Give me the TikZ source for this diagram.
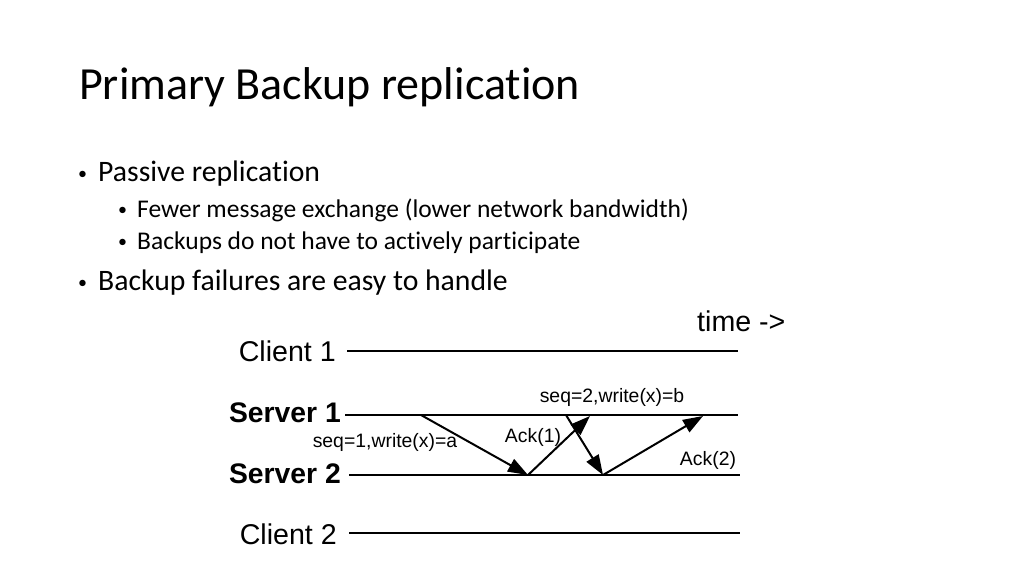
\documentclass[tikz,border=0pt]{standalone}
\usepackage{fontspec}
\setmainfont{Carlito}[Ligatures=NoCommon]
\newfontfamily\diagfont{Liberation Sans}
\usetikzlibrary{arrows.meta}
\tikzstyle{title}=[anchor=west, inner sep=0pt, font=\fontsize{46}{50}\selectfont]
\tikzstyle{item}=[anchor=west, inner sep=0pt, font=\fontsize{29.7}{34}\selectfont]
\tikzstyle{subitem}=[anchor=west, inner sep=0pt, font=\fontsize{25.5}{30}\selectfont]
\tikzstyle{proc}=[anchor=east, inner sep=0pt, font=\diagfont\fontsize{28.6}{32}\selectfont]
\tikzstyle{msglbl}=[inner sep=0pt, font=\diagfont\fontsize{19.4}{22}\selectfont]
\tikzstyle{timeline}=[line width=2.5pt]
\tikzstyle{msg}=[line width=2pt, -{Triangle[length=20pt,width=14pt]}]
\newcommand{\bul}[1]{\llap{\raisebox{2pt}{\fontsize{18}{18}\selectfont\textbullet}\hspace{#1}}}

\begin{document}
\begin{tikzpicture}[x=1pt, y=-1pt]
    \useasboundingbox[fill=white] (0,0) rectangle (1024,576);
    \node (ttl) [title] at (79,87) {Primary Backup replication};
    \node (pass) [item] at (98,174) {\bul{11pt}Passive replication};
    \node (fewer) [subitem] at (137,210) {\bul{10pt}Fewer message exchange (lower network bandwidth)};
    \node (actv) [subitem] at (137,243) {\bul{10pt}Backups do not have to actively participate};
    \node (fail) [item] at (98,283) {\bul{11pt}Backup failures are easy to handle};

    \node (time) [proc, anchor=west] at (697,321) {time ->};
    \node (c1) [proc] at (336,351) {Client 1};
    \node (s1) [proc, font=\diagfont\bfseries\fontsize{28.3}{32}\selectfont] at (341,413) {Server 1};
    \node (s2) [proc, font=\diagfont\bfseries\fontsize{28.3}{32}\selectfont] at (341,474) {Server 2};
    \node (c2) [proc] at (337,534) {Client 2};
    \coordinate (c1e) at (738,351);
    \coordinate (s1e) at (738,415);
    \coordinate (s2e) at (740,475);
    \coordinate (c2e) at (740,533);
    \draw [timeline] (c1.east)+(11,0) -- (c1e);
    \draw [timeline] (s1.east |- s1e)+(4,0) -- (s1e);
    \draw [timeline] (s2.east |- s2e)+(8,0) -- (s2e);
    \draw [timeline] (c2.east |- c2e)+(12,0) -- (c2e);

    \coordinate (w1) at (421,415);
    \coordinate (w1r) at (528,475);
    \coordinate (a1) at (590,416);
    \coordinate (w2) at (566,415);
    \coordinate (w2r) at (603,475);
    \coordinate (a2) at (703,416);
    \draw [msg] (w1) -- (w1r);
    \draw [msg] (w1r) -- (a1);
    \draw [msg] (w2) -- (w2r);
    \draw [msg] (w2r) -- (a2);
    \node (l1) [msglbl] at (385,442) {seq=1,write(x)=a};
    \node (l2) [msglbl] at (533,437) {Ack(1)};
    \node (l3) [msglbl] at (612,397) {seq=2,write(x)=b};
    \node (l4) [msglbl] at (708,460) {Ack(2)};
\end{tikzpicture}
\end{document}
